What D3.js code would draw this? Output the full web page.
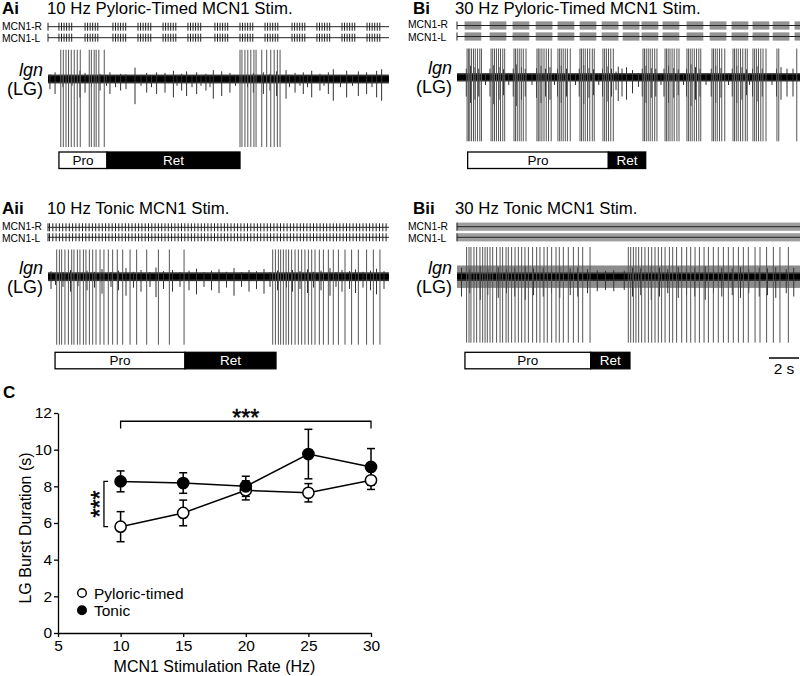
<!DOCTYPE html>
<html>
<head>
<meta charset="utf-8">
<script src="https://cdn.jsdelivr.net/npm/d3@7"></script>
<style>
  body { margin: 0; background: #fff; }
  svg { display: block; font-family: "Liberation Sans", Arial, sans-serif; }
</style>
</head>
<body>
<svg width="800" height="676"></svg>
<script>
// ---- recording data (times in s, spike amplitudes relative to LG spike) ----
const pxPerSec = 15;

// MCN1 stimulation
const aiStimBursts = [0.73, 2.47, 4.33, 6.0, 7.67, 9.33, 11.13, 12.8, 14.47, 16.27, 17.93, 19.6, 21.27];
const aiPulsesPerBurst = 6, aiPulseGap = 0.17;
const aiiStimGap = 0.22;
const biStimBursts = [0.53, 2.2, 3.73, 5.27, 6.73, 8.2, 9.67, 11.07, 12.33, 13.73, 15.33, 16.87, 18.33, 19.73, 21.07, 22.53];
const biBurstLen = 1.1, biPulseGap = 1 / 30;
const biiStimGap = 1 / 30;

// LG spikes on the lgn
const aiLG = [0.85, 1.02, 1.2, 1.37, 1.55, 1.75, 1.95, 2.15, 2.75, 2.89, 3.08, 3.21, 3.39, 3.75,
  12.8, 12.93, 13.13, 13.32, 13.52, 13.73, 13.87, 14.25, 14.58, 14.85, 15.08, 15.29, 15.47];
const aiiLG = [0.58, 0.76, 0.91, 1.13, 1.36, 1.58, 1.73, 1.96, 2.13, 2.36, 2.53, 2.76, 2.98, 3.2, 3.47,
  3.73, 4.02, 4.31, 4.62, 4.98, 5.47, 5.91, 6.58, 7.36, 8.09, 9.07,
  14.98, 15.16, 15.36, 15.51, 15.69, 15.87, 16.04, 16.24, 16.47, 16.69, 16.91, 17.13, 17.36, 17.58,
  17.8, 18.09, 18.36, 18.69, 19.02, 19.36, 19.8, 20.24, 20.69, 21.24, 21.69, 22.13];
const biLG = [
  0.67, 0.76, 0.85, 0.97, 1.1, 1.22, 1.37, 1.52, 1.63,
  2.27, 2.38, 2.5, 2.63, 2.77, 2.9, 3.05, 3.18,
  3.8, 3.9, 4.02, 4.15, 4.28, 4.42, 4.6,
  5.33, 5.42, 5.53, 5.66, 5.8, 5.95, 6.1, 6.28,
  6.73, 6.84, 6.95, 7.08, 7.22, 7.36, 7.55,
  8.2, 8.3, 8.42, 8.55, 8.7, 8.85, 9.02, 9.15,
  9.73, 9.84, 9.96, 10.1, 10.25, 10.42,
  12.4, 12.5, 12.62, 12.75, 12.88, 13.02, 13.18, 13.33,
  13.87, 13.97, 14.08, 14.2, 14.34, 14.48, 14.66, 14.8,
  15.33, 15.43, 15.55, 15.68, 15.82, 15.97, 16.12, 16.25,
  17.0, 17.1, 17.22, 17.35, 17.5, 17.65, 17.85,
  18.4, 18.5, 18.62, 18.75, 18.9, 19.05, 19.22, 19.35,
  19.73, 19.84, 19.96, 20.1, 20.25, 20.4, 20.6,
  21.33, 21.45, 22.65];
const biiLG = [0.64, 0.8, 0.93, 1.13, 1.31, 1.53, 1.71, 1.87, 2.02, 2.2, 2.38, 2.64, 2.87, 3.04, 3.27,
  3.42, 3.64, 3.87, 4.09, 4.31, 4.53, 4.76, 5.04, 5.31, 5.53, 5.8, 6.02, 6.31, 6.6, 6.82, 7.09,
  7.42, 7.76, 8.09, 8.38, 8.87,
  11.42, 11.58, 11.76, 11.93, 12.11, 12.31, 12.53, 12.76, 12.98, 13.2, 13.42, 13.64, 13.87, 14.16,
  14.38, 14.64, 14.98, 15.31, 15.58, 15.87, 16.16, 16.47, 16.76, 17.09, 17.42, 17.76, 18.09, 18.42,
  18.76, 19.09, 19.42, 19.87, 20.2, 20.64, 21.09, 21.53, 22.09];

// smaller units on the lgn: [time, amplitude]
const aiSmall = [[0.13, 0.15], [0.47, 0.22], [1.0, 0.12], [1.6, 0.1], [2.13, 0.27], [2.47, 0.2], [2.9, 0.12],
  [3.47, 0.17], [3.9, 0.1], [4.13, 0.22], [4.5, 0.12], [4.84, 0.17], [5.2, 0.15], [5.8, 0.37], [6.2, 0.1],
  [6.58, 0.2], [6.9, 0.12], [7.24, 0.22], [7.8, 0.2], [8.36, 0.27], [8.6, 0.1], [8.91, 0.17], [9.24, 0.25],
  [9.6, 0.12], [9.91, 0.22], [10.2, 0.1], [10.53, 0.17], [10.8, 0.12], [11.02, 0.29], [11.58, 0.25],
  [12.13, 0.2], [12.5, 0.1], [13.3, 0.12], [13.69, 0.2], [14.36, 0.22], [14.8, 0.17], [15.24, 0.25],
  [15.87, 0.29], [16.1, 0.12], [16.47, 0.2], [16.8, 0.1], [17.02, 0.22], [17.3, 0.12], [17.58, 0.27],
  [18.13, 0.17], [18.4, 0.1], [18.69, 0.22], [19.02, 0.32], [19.5, 0.12], [19.91, 0.27], [20.3, 0.1],
  [20.69, 0.25], [21.24, 0.22], [21.6, 0.12], [21.91, 0.27], [22.24, 0.32]];
const aiiSmall = [[0.2, 0.18], [0.5, 0.12], [1.0, 0.15], [1.5, 0.22], [2.0, 0.14], [2.6, 0.2], [3.1, 0.16],
  [3.6, 0.25], [4.2, 0.15], [4.7, 0.2], [5.2, 0.28], [5.7, 0.16], [6.2, 0.22], [6.8, 0.15], [7.2, 0.3],
  [7.7, 0.18], [8.3, 0.22], [8.8, 0.15], [9.4, 0.2], [9.9, 0.26], [10.4, 0.15], [10.9, 0.2], [11.4, 0.24],
  [11.9, 0.16], [12.4, 0.28], [12.9, 0.15], [13.4, 0.22], [13.9, 0.18], [14.4, 0.25], [14.8, 0.15],
  [15.3, 0.2], [15.9, 0.16], [16.3, 0.22], [16.8, 0.18], [17.3, 0.24], [17.7, 0.16], [18.2, 0.2],
  [18.8, 0.28], [19.2, 0.15], [19.6, 0.22], [20.1, 0.18], [20.5, 0.24], [21.0, 0.16], [21.5, 0.2],
  [21.9, 0.26], [22.4, 0.18]];
const biSmall = [[0.62, 0.3], [0.9, 0.4], [1.2, 0.35], [1.45, 0.3], [1.9, 0.12], [2.2, 0.3], [2.45, 0.42],
  [2.8, 0.35], [3.1, 0.28], [3.45, 0.12], [3.75, 0.3], [3.95, 0.45], [4.3, 0.35], [4.55, 0.3], [5.0, 0.12],
  [5.3, 0.32], [5.6, 0.4], [5.9, 0.3], [6.2, 0.35], [6.5, 0.12], [6.7, 0.3], [6.95, 0.4], [7.3, 0.3],
  [7.9, 0.12], [8.15, 0.3], [8.45, 0.42], [8.8, 0.32], [9.1, 0.28], [9.45, 0.12], [9.7, 0.3], [10.0, 0.38],
  [10.3, 0.3], [10.6, 0.2], [10.75, 0.37], [11.0, 0.3], [11.3, 0.35], [11.7, 0.25], [12.1, 0.15],
  [12.35, 0.3], [12.6, 0.4], [12.95, 0.32], [13.25, 0.3], [13.6, 0.12], [13.8, 0.3], [14.1, 0.4],
  [14.45, 0.32], [14.75, 0.28], [15.1, 0.12], [15.3, 0.3], [15.6, 0.45], [15.9, 0.35], [16.2, 0.3],
  [16.6, 0.12], [16.95, 0.3], [17.25, 0.4], [17.6, 0.32], [18.1, 0.12], [18.35, 0.3], [18.65, 0.4],
  [19.0, 0.35], [19.3, 0.28], [19.5, 0.12], [19.7, 0.3], [20.0, 0.38], [20.35, 0.3], [21.0, 0.12],
  [21.3, 0.3], [21.6, 0.35], [22.0, 0.3], [22.4, 0.3]];
const biiSmall = [[0.3, 0.3], [0.85, 0.25], [1.55, 0.35], [2.05, 0.28], [2.75, 0.32], [3.3, 0.25],
  [3.85, 0.3], [4.55, 0.35], [5.1, 0.28], [5.75, 0.3], [6.3, 0.25], [6.85, 0.32], [7.55, 0.28],
  [8.05, 0.3], [8.7, 0.25], [9.35, 0.22], [9.9, 0.2], [10.45, 0.22], [11.15, 0.2], [11.7, 0.3],
  [12.25, 0.28], [12.95, 0.35], [13.5, 0.3], [14.05, 0.25], [14.75, 0.32], [15.3, 0.28], [15.85, 0.3],
  [16.55, 0.35], [17.1, 0.25], [17.65, 0.3], [18.35, 0.28], [18.9, 0.32], [19.45, 0.25], [20.15, 0.3],
  [20.7, 0.28], [21.25, 0.32], [21.95, 0.25], [22.45, 0.3]];

// protraction / retraction phases: [start, switch, end]
const aiPhases = [0.73, 3.93, 12.8];
const aiiPhases = [0.47, 9.13, 15.2];
const biPhases = [0.71, 10.09, 12.58];
const biiPhases = [0.53, 8.91, 11.53];

// ---- panel C data ----
const rates = [10, 15, 20, 25, 30];
const pyloricMean = [5.8, 6.55, 7.78, 7.65, 8.33];
const pyloricSem = [0.82, 0.7, 0.52, 0.5, 0.5];
const tonicMean = [8.27, 8.18, 8.0, 9.76, 9.06];
const tonicSem = [0.57, 0.56, 0.55, 1.35, 1.0];
const yTicks = [0, 2, 4, 6, 8, 10, 12];
const xTicks = [5, 10, 15, 20, 25, 30];

const svg = d3.select("svg");

function pulseTrain(onsets, n, gap) {
  return onsets.flatMap(t0 => d3.range(n).map(i => t0 + i * gap));
}

function drawPanel(p) {
  const g = svg.append("g");
  const x = d3.scaleLinear().domain([0, p.dur]).range([p.x0, p.x0 + p.dur * pxPerSec]);
  const y = d3.scaleLinear().domain([-1, 1]).range([p.traceY + p.down, p.traceY - p.down]);

  g.append("text").attr("x", p.lx).attr("y", p.ty)
    .attr("font-weight", "bold").attr("font-size", 17).text(p.name);
  g.append("text").attr("x", p.tx).attr("y", p.ty).attr("font-size", 16.8).text(p.title);

  // MCN1 stim rows
  [["MCN1-R", p.rY, 2.9], ["MCN1-L", p.lY, 4.3]].forEach(([lab, ly, off]) => {
    g.append("text").attr("x", p.sx).attr("y", ly + off).attr("font-size", 10.3).text(lab);
    g.append("g").selectAll("line").data(p.stim).join("line")
      .attr("x1", d => x(d)).attr("x2", d => x(d))
      .attr("y1", ly - 4).attr("y2", ly + 4)
      .attr("stroke", p.stimColor).attr("stroke-width", p.stimWidth);
    g.append("line").attr("x1", x(0)).attr("x2", x(p.dur)).attr("y1", ly).attr("y2", ly)
      .attr("stroke", "#222").attr("stroke-width", 1);
    g.append("line").attr("x1", x(0)).attr("x2", x(0)).attr("y1", ly - 4).attr("y2", ly + 4)
      .attr("stroke", "#222").attr("stroke-width", 1);
  });

  // lgn labels
  g.append("text").attr("x", p.nx).attr("y", p.traceY - 3).attr("text-anchor", "end")
    .attr("font-size", 18).attr("font-style", "italic").text("lgn");
  g.append("text").attr("x", p.nx).attr("y", p.traceY + 16).attr("text-anchor", "end")
    .attr("font-size", 18).text("(LG)");

  // baseline noise
  if (p.wideNoise) {
    g.append("rect").attr("x", x(0)).attr("width", x(p.dur) - x(0))
      .attr("y", y(p.wideNoise)).attr("height", y(-p.wideNoise) - y(p.wideNoise)).attr("fill", "#8c8c8c");
  }
  g.append("rect").attr("x", x(0)).attr("width", x(p.dur) - x(0))
    .attr("y", y(0.065)).attr("height", y(-0.065) - y(0.065)).attr("fill", "#333");
  g.append("rect").attr("x", x(0)).attr("width", x(p.dur) - x(0))
    .attr("y", y(0.04)).attr("height", y(-0.04) - y(0.04)).attr("fill", "#000");

  g.append("g").selectAll("line").data(p.small).join("line")
    .attr("x1", d => x(d[0])).attr("x2", d => x(d[0]))
    .attr("y1", d => y(d[1] * 0.45)).attr("y2", d => y(-d[1]))
    .attr("stroke", "#333").attr("stroke-width", 1);
  g.append("g").selectAll("line").data(p.lg).join("line")
    .attr("x1", d => x(d)).attr("x2", d => x(d))
    .attr("y1", y(p.up)).attr("y2", y(-1))
    .attr("stroke", "#555").attr("stroke-width", 1);

  // Pro / Ret bar
  const [t0, t1, t2] = p.phases;
  g.append("rect").attr("x", x(t0)).attr("y", p.barY).attr("width", x(t1) - x(t0)).attr("height", 16.5)
    .attr("fill", "#fff").attr("stroke", "#000").attr("stroke-width", 1.3);
  g.append("rect").attr("x", x(t1)).attr("y", p.barY).attr("width", x(t2) - x(t1)).attr("height", 16.5)
    .attr("fill", "#000").attr("stroke", "#000").attr("stroke-width", 1.3);
  g.append("text").attr("x", (x(t0) + x(t1)) / 2).attr("y", p.barY + 13).attr("text-anchor", "middle")
    .attr("font-size", 13.5).text("Pro");
  g.append("text").attr("x", (x(t1) + x(t2)) / 2).attr("y", p.barY + 13).attr("text-anchor", "middle")
    .attr("font-size", 13.5).attr("fill", "#fff").text("Ret");
  return x;
}

drawPanel({name: "Ai", title: "10 Hz Pyloric-Timed MCN1 Stim.", lx: 2, tx: 47, ty: 14, sx: 2, nx: 43,
  x0: 48, dur: 22.73, rY: 26.7, lY: 37.7, traceY: 79, down: 68, up: 0.43, barY: 152,
  stim: pulseTrain(aiStimBursts, aiPulsesPerBurst, aiPulseGap), stimColor: "#222", stimWidth: 1,
  lg: aiLG, small: aiSmall, phases: aiPhases});
drawPanel({name: "Aii", title: "10 Hz Tonic MCN1 Stim.", lx: 2, tx: 47, ty: 214, sx: 2, nx: 43,
  x0: 48, dur: 22.73, rY: 227.3, lY: 237.3, traceY: 276.7, down: 68, up: 0.4, barY: 352.3,
  stim: d3.range(0.1, 22.73, aiiStimGap), stimColor: "#222", stimWidth: 1,
  lg: aiiLG, small: aiiSmall, phases: aiiPhases});
drawPanel({name: "Bi", title: "30 Hz Pyloric-Timed MCN1 Stim.", lx: 413, tx: 455, ty: 14, sx: 408, nx: 452,
  x0: 457, dur: 23, rY: 25.5, lY: 36.5, traceY: 77.3, down: 64, up: 0.45, barY: 152,
  stim: pulseTrain(biStimBursts, Math.round(biBurstLen / biPulseGap), biPulseGap), stimColor: "#777", stimWidth: 0.6,
  lg: biLG, small: biSmall, phases: biPhases});
const xBii = drawPanel({name: "Bii", title: "30 Hz Tonic MCN1 Stim.", lx: 413, tx: 455, ty: 214, sx: 408, nx: 452,
  x0: 457, dur: 23, rY: 226.7, lY: 237.3, traceY: 276.7, down: 66, up: 0.45, barY: 352.3, wideNoise: 0.17,
  stim: d3.range(0, 23, biiStimGap), stimColor: "#888", stimWidth: 0.6,
  lg: biiLG, small: biiSmall, phases: biiPhases});

// time scale bar
const barStart = 20.8, barLen = 2;
svg.append("line").attr("x1", xBii(barStart)).attr("x2", xBii(barStart + barLen))
  .attr("y1", 358).attr("y2", 358).attr("stroke", "#000").attr("stroke-width", 1.5);
svg.append("text").attr("x", xBii(barStart + barLen / 2)).attr("y", 374).attr("text-anchor", "middle")
  .attr("font-size", 15.5).text(barLen + " s");

// ---- panel C ----
const cx = d3.scaleLinear().domain([5, 30]).range([58, 371]);
const cy = d3.scaleLinear().domain([0, 12]).range([633, 413]);
const gC = svg.append("g");

svg.append("text").attr("x", 3).attr("y", 398).attr("font-weight", "bold").attr("font-size", 17).text("C");

const xAxis = gC.append("g").attr("transform", "translate(0,633)")
  .call(d3.axisBottom(cx).tickValues(xTicks).tickSize(4).tickSizeOuter(0).tickPadding(3));
const yAxis = gC.append("g").attr("transform", "translate(58,0)")
  .call(d3.axisLeft(cy).tickValues(yTicks).tickSize(4).tickSizeOuter(0).tickPadding(2));
[xAxis, yAxis].forEach(a => {
  a.attr("font-family", null).attr("font-size", 15.5);
  a.selectAll("path, line").attr("stroke", "#000").attr("stroke-width", 1.3);
  a.selectAll("text").attr("fill", "#000");
});

gC.append("text").attr("x", (cx(5) + cx(30)) / 2).attr("y", 672).attr("text-anchor", "middle")
  .attr("font-size", 16).text("MCN1 Stimulation Rate (Hz)");
gC.append("text").attr("transform", `translate(31,${(cy(0) + cy(12)) / 2 + 5}) rotate(-90)`)
  .attr("text-anchor", "middle").attr("font-size", 16).text("LG Burst Duration (s)");

const series = [
  {mean: pyloricMean, sem: pyloricSem, fill: "#fff"},
  {mean: tonicMean, sem: tonicSem, fill: "#000"}
].map(s => ({...s, pts: rates.map((r, i) => ({rate: r, mean: s.mean[i], sem: s.sem[i]}))}));

const line = d3.line().x(d => cx(d.rate)).y(d => cy(d.mean));
series.forEach(s => {
  gC.append("path").datum(s.pts).attr("d", line).attr("fill", "none")
    .attr("stroke", "#000").attr("stroke-width", 1.5);
});
series.forEach(s => {
  const eb = gC.append("g").attr("stroke", "#000").attr("stroke-width", 1.5);
  eb.selectAll(".v").data(s.pts).join("line").attr("class", "v")
    .attr("x1", d => cx(d.rate)).attr("x2", d => cx(d.rate))
    .attr("y1", d => cy(d.mean - d.sem)).attr("y2", d => cy(d.mean + d.sem));
  [-1, 1].forEach(k => {
    eb.selectAll(".c" + (k + 1)).data(s.pts).join("line").attr("class", "c" + (k + 1))
      .attr("x1", d => cx(d.rate) - 4).attr("x2", d => cx(d.rate) + 4)
      .attr("y1", d => cy(d.mean + k * d.sem)).attr("y2", d => cy(d.mean + k * d.sem));
  });
});
series.forEach(s => {
  gC.append("g").selectAll("circle").data(s.pts).join("circle")
    .attr("cx", d => cx(d.rate)).attr("cy", d => cy(d.mean)).attr("r", 5.6)
    .attr("fill", s.fill).attr("stroke", "#000").attr("stroke-width", 1.5);
});

// significance brackets
const topY = 11.55, topTick = 11.15;
gC.append("path").attr("fill", "none").attr("stroke", "#000").attr("stroke-width", 1.3)
  .attr("d", `M${cx(10)},${cy(topTick)}V${cy(topY)}H${cx(30)}V${cy(topTick)}`);
gC.append("text").attr("x", cx(20)).attr("y", cy(topY) + 5).attr("text-anchor", "middle")
  .attr("font-size", 23).attr("stroke", "#000").attr("stroke-width", 0.5).text("***");
const brX = 8.67, brTick = 9.0;
gC.append("path").attr("fill", "none").attr("stroke", "#000").attr("stroke-width", 1.3)
  .attr("d", `M${cx(brTick)},${cy(tonicMean[0])}H${cx(brX)}V${cy(pyloricMean[0])}H${cx(brTick)}`);
gC.append("text").attr("transform", `translate(${cx(brX) + 4.5},${(cy(tonicMean[0]) + cy(pyloricMean[0])) / 2}) rotate(-90)`)
  .attr("text-anchor", "middle").attr("font-size", 23).attr("stroke", "#000").attr("stroke-width", 0.5).text("***");

// legend
const legend = [["Pyloric-timed", "#fff"], ["Tonic", "#000"]];
legend.forEach(([lab, fill], i) => {
  const ly = 593 + i * 17.3;
  gC.append("circle").attr("cx", 82).attr("cy", ly).attr("r", 4.3)
    .attr("fill", fill).attr("stroke", "#000").attr("stroke-width", 1.4);
  gC.append("text").attr("x", 94).attr("y", ly + 5.5).attr("font-size", 15.5).text(lab);
});
</script>
</body>
</html>
